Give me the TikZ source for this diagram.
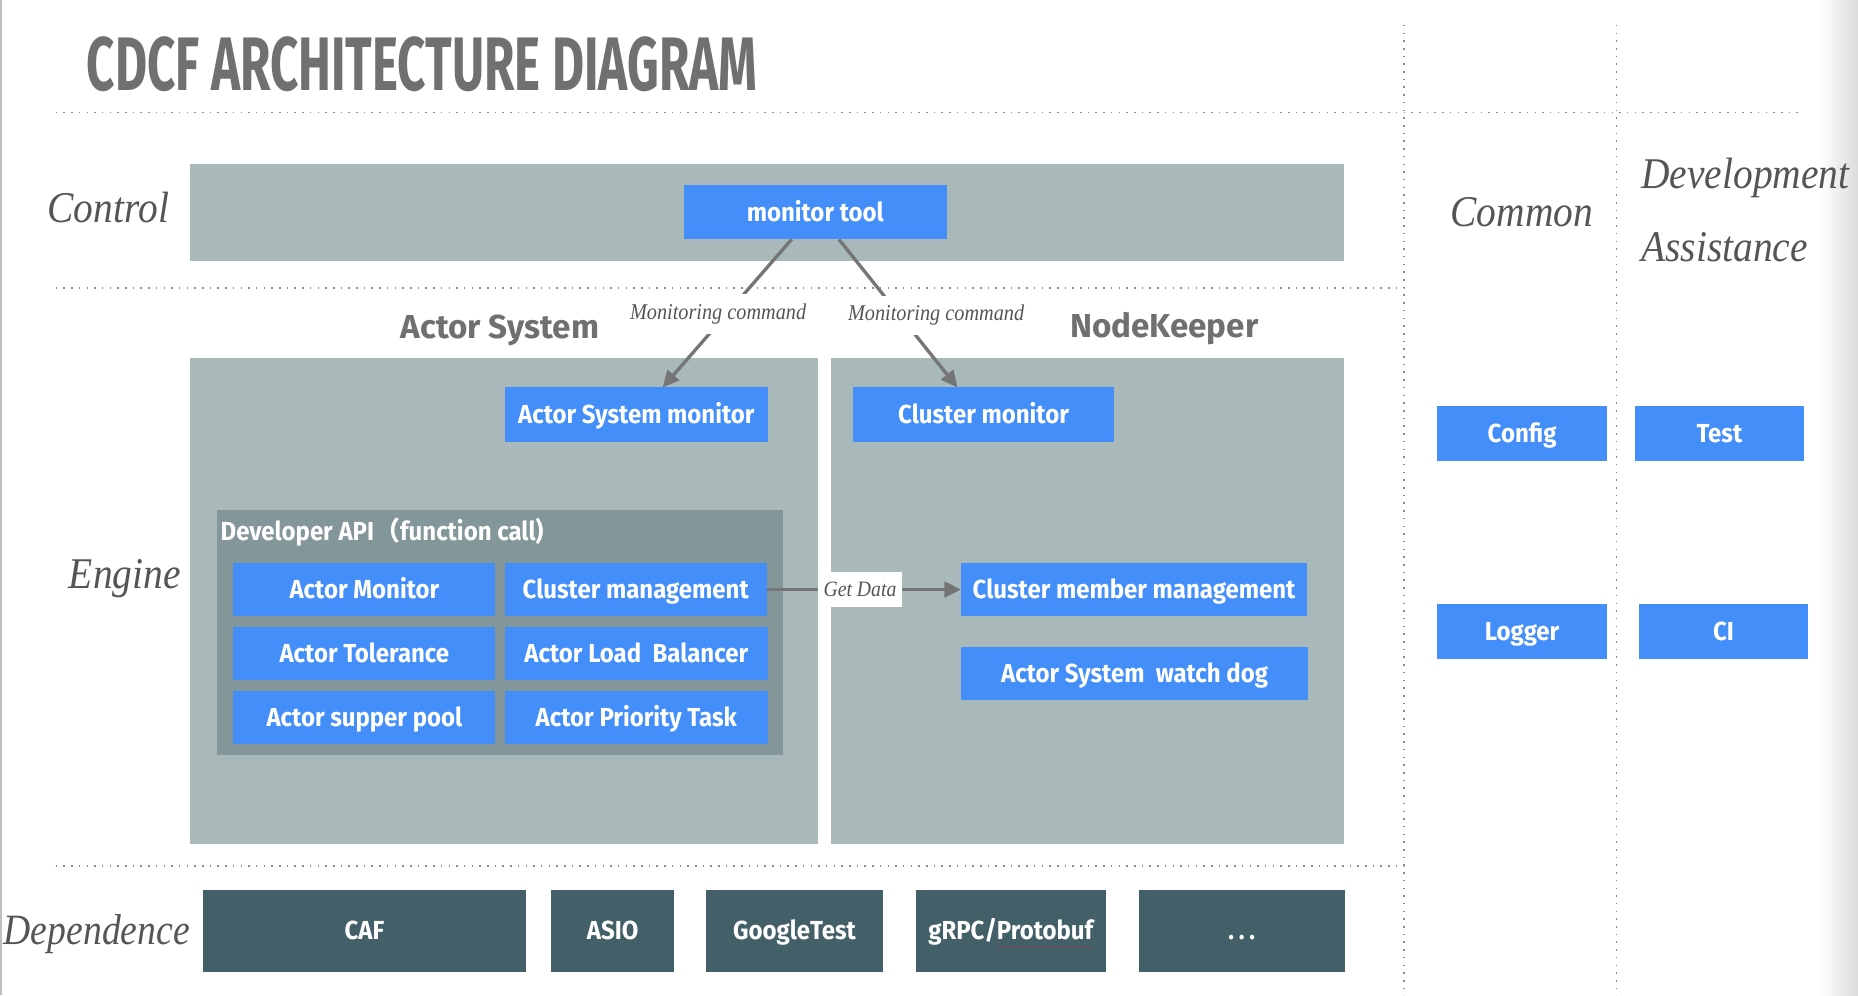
\documentclass[tikz,border=0pt]{standalone}
\usepackage{fontspec}
\usetikzlibrary{arrows.meta,calc}
\newfontfamily\dinf{Fira Sans}[FakeStretch=0.92]
\newfontfamily\dinh{Fira Sans}[FakeStretch=1.0]
\newfontfamily\dint{Fira Sans}[FakeStretch=0.65]
\newfontfamily\itf{Liberation Serif}[FakeStretch=0.9]
\newfontfamily\itn{Liberation Serif}[FakeStretch=0.87]
\newfontfamily\cjkf{Noto Sans CJK SC}
\definecolor{panel}{HTML}{A9B9B9}
\definecolor{devapi}{HTML}{839699}
\definecolor{bluebox}{HTML}{448EFA}
\definecolor{depbox}{HTML}{435F67}
\definecolor{greytxt}{HTML}{707070}
\definecolor{itxt}{HTML}{555555}
\definecolor{arrowc}{HTML}{757575}
\definecolor{dotc}{HTML}{8A8A8A}
\begin{document}
\begin{tikzpicture}[x=1pt,y=-1pt,
  panelbox/.style={fill=panel, inner sep=0pt, outer sep=0pt},
  bluebx/.style={fill=bluebox, text=white, inner sep=0pt, outer sep=0pt,
    font=\dinf\bfseries\fontsize{22}{24}\selectfont, text height=19.2pt, text depth=4pt},
  depbx/.style={fill=depbox, text=white, inner sep=0pt, outer sep=0pt, minimum height=69pt,
    font=\dinf\bfseries\fontsize{22}{24}\selectfont, text height=19.2pt, text depth=4pt},
  seclabel/.style={text=itxt, font=\itf\itshape\fontsize{37}{40}\selectfont, inner sep=0pt, anchor=base west},
  heading/.style={text=greytxt, font=\dinh\bfseries\fontsize{28}{30}\selectfont, inner sep=0pt, anchor=base west},
  dotline/.style={dotc, line width=1.3pt, dash pattern=on 1.3pt off 5.2pt},
  conn/.style={arrowc, line width=2.8pt, -{Triangle[length=14pt,width=13pt]}},
  cmdlabel/.style={fill=white, text=itxt, font=\itf\itshape\fontsize{19}{21}\selectfont,
    inner xsep=3pt, inner ysep=0pt, minimum height=33pt},
  gdlabel/.style={fill=white, text=itxt, font=\itf\itshape\fontsize{18.5}{20}\selectfont,
    inner xsep=5pt, inner ysep=0pt, minimum height=30pt}
]
\useasboundingbox (0,0) rectangle (1568,840);
% page edges
\draw[black!25, line width=1pt] (0.8,0) -- (0.8,840);
\shade[left color=white, right color=black!14] (1536,0) rectangle (1568,840);

% title
\node[text=greytxt, font=\dint\bfseries\fontsize{64}{66}\selectfont, inner sep=0pt, anchor=base west]
  (title) at (73,76.5) {CDCF ARCHITECTURE DIAGRAM};

% dotted separators
\draw[dotline] (47,95) -- (1522,95);
\draw[dotline] (47,243) -- (1185,243);
\draw[dotline] (47,731) -- (1185,731);
\draw[dotline] (1185,21) -- (1185,840);
\draw[dotline] (1364,21) -- (1364,840);

% section labels
\node[seclabel] (lctrl) at (40,188) {Control};
\node[seclabel] (leng) at (58,497) {Engine};
\node[seclabel, font=\itn\itshape\fontsize{36.5}{40}\selectfont] (ldep) at (3,797) {Dependence};
\node[seclabel] (lcom) at (1224,191) {Common};
\node[seclabel] (ldev) at (1385,159) {Development};
\node[seclabel] (lass) at (1385,221) {Assistance};

% panels
\node[panelbox, minimum width=974pt, minimum height=82pt] (ctrl) at (647,179) {};
\node[panelbox, minimum width=530pt, minimum height=410pt] (asp) at (425,507) {};
\node[panelbox, minimum width=433pt, minimum height=410pt] (nkp) at (917.5,507) {};
\node[fill=devapi, inner sep=0pt, minimum width=478pt, minimum height=207pt] (dapi) at (422,533.5) {};
\node[text=white, font=\dinf\bfseries\fontsize{22}{24}\selectfont, inner sep=0pt, anchor=base west]
  (dapit) at (186,456) {Developer API{\cjkf\bfseries （}function call)};

% headings
\node[heading] (hasys) at (338,286) {Actor System};
\node[heading] (hnk) at (903,285) {NodeKeeper};

% blue boxes
\node[bluebx, minimum width=222pt, minimum height=46pt] (mt) at (688,179) {monitor tool};
\node[bluebx, minimum width=222pt, minimum height=46pt] (asm) at (537,350) {Actor System monitor};
\node[bluebx, minimum width=220pt, minimum height=46pt] (cm) at (830,350) {Cluster monitor};

\node[bluebx, minimum width=221pt, minimum height=45pt] (am) at (307.5,497.5) {Actor Monitor};
\node[bluebx, minimum width=221pt, minimum height=45pt] (clm) at (536.5,497.5) {Cluster management};
\node[bluebx, minimum width=221pt, minimum height=45pt] (at) at (307.5,551.5) {Actor Tolerance};
\node[bluebx, minimum width=222pt, minimum height=45pt] (alb) at (537,551.5) {Actor Load\ \ Balancer};
\node[bluebx, minimum width=221pt, minimum height=45pt] (asup) at (307.5,605.5) {Actor supper pool};
\node[bluebx, minimum width=222pt, minimum height=45pt] (apt) at (537,605.5) {Actor Priority Task};

\node[bluebx, minimum width=292pt, minimum height=45pt] (cmm) at (957,497.5) {Cluster member management};
\node[bluebx, minimum width=293pt, minimum height=45pt] (aswd) at (957.5,568.5) {Actor System\ \ watch dog};

\node[bluebx, minimum width=143pt, minimum height=46pt] (cfg) at (1284.5,366) {Config};
\node[bluebx, minimum width=142pt, minimum height=46pt] (tst) at (1451,366) {Test};
\node[bluebx, minimum width=143pt, minimum height=46pt] (lgr) at (1284.5,533) {Logger};
\node[bluebx, minimum width=143pt, minimum height=46pt] (ci) at (1454.5,533) {CI};

% dependence boxes
\node[depbx, minimum width=273pt] (caf) at (307.5,785.5) {CAF};
\node[depbx, minimum width=104pt] (asio) at (517,785.5) {ASIO};
\node[depbx, minimum width=149pt] (gtest) at (670.5,785.5) {GoogleTest};
\node[depbx, minimum width=160pt] (grpc) at (853,785.5) {gRPC/Protobuf};
\node[depbx, minimum width=174pt] (more) at (1048,785.5) {.\hspace{4pt}.\hspace{4pt}.};
\draw[red!55!depbox, line width=0.9pt, dash pattern=on 0.9pt off 0.9pt] ($(grpc.center)+(-11,14)$) -- ($(grpc.center)+(68,14)$);

% connectors
\draw[conn] ($(mt.south west)!0.41!(mt.south east)$) -- ($(asm.north west)!0.60!(asm.north east)$);
\draw[conn] ($(mt.south west)!0.59!(mt.south east)$) -- ($(cm.north west)!0.40!(cm.north east)$);
\node[cmdlabel] (ml1) at (606,265) {Monitoring command};
\node[cmdlabel] (ml2) at (790,266) {Monitoring command};
\draw[conn] (clm.east) -- node[gdlabel, pos=0.48] (gd) {Get Data} (cmm.west);
\end{tikzpicture}
\end{document}
